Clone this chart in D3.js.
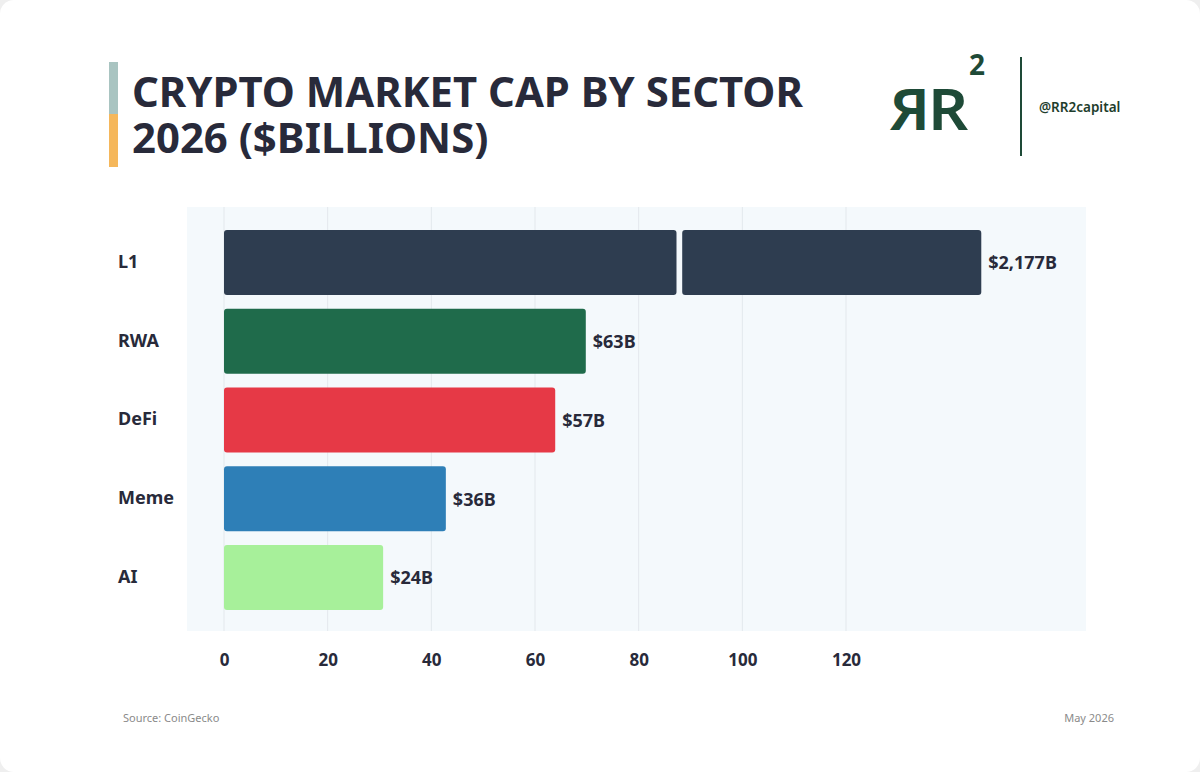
<!DOCTYPE html>
<html>
<head>
<meta charset="utf-8">
<script src="https://cdn.jsdelivr.net/npm/d3@7"></script>
<style>
  body { margin: 0; background: #efefef; }
  svg { display: block; }
  text { font-family: "Noto Sans", "Open Sans", sans-serif; }
</style>
</head>
<body>
<div id="content"></div>
<script>
// values
const sectors = ["L1", "RWA", "DeFi", "Meme", "AI"];
const valueLabels = ["$2,177B", "$63B", "$57B", "$36B", "$24B"];
// drawn bar lengths in axis units (the L1 bar is broken)
const barLengths = [146.1, 69.8, 63.9, 42.8, 30.7];
const l1Break = [87.3, 88.4];
const barColors = ["#2e3d50", "#1f6b4b", "#e63946", "#2e7fb7", "#a7f09a"];
const ticks = [0, 20, 40, 60, 80, 100, 120];

const W = 1200, H = 772;

const svg = d3
  .select("#content")
  .append("svg")
  .attr("width", W)
  .attr("height", H);

svg.append("rect")
  .attr("width", W).attr("height", H)
  .attr("rx", 14)
  .attr("fill", "#ffffff");

// title accent
svg.append("rect").attr("x", 109).attr("y", 62).attr("width", 9).attr("height", 52).attr("fill", "#a9c4c1");
svg.append("rect").attr("x", 109).attr("y", 114).attr("width", 9).attr("height", 53).attr("fill", "#f5b75b");

// title as one text block, two lines
const titleLines = ["CRYPTO MARKET CAP BY SECTOR", "2026 ($BILLIONS)"];
const title = svg.append("text")
  .attr("x", 132)
  .attr("y", 107)
  .attr("font-size", 42)
  .attr("font-weight", 700)
  .attr("fill", "#282a3a");
title.selectAll("tspan")
  .data(titleLines)
  .join("tspan")
  .attr("x", 132)
  .attr("y", (d, i) => 107 + i * 46)
  .text((d) => d);
// fit first line to the reference width
const firstLen = title.select("tspan").node().getComputedTextLength();
title.attr("font-size", 42 * 671 / firstLen);

// logo
const logo = svg.append("g").attr("fill", "#1e4a37");
logo.append("text")
  .attr("x", 0).attr("y", 0)
  .attr("transform", "translate(930,130) scale(-1.08,1)")
  .attr("font-size", 58)
  .attr("font-weight", 600)
  .text("R");
logo.append("text")
  .attr("x", 0).attr("y", 0)
  .attr("transform", "translate(928,130) scale(1.08,1)")
  .attr("font-size", 58)
  .attr("font-weight", 600)
  .text("R");
logo.append("text")
  .attr("x", 969).attr("y", 75)
  .attr("font-size", 28)
  .attr("font-weight", 700)
  .text("2");
svg.append("line")
  .attr("x1", 1021).attr("x2", 1021)
  .attr("y1", 57).attr("y2", 156)
  .attr("stroke", "#1e4a37").attr("stroke-width", 2);
svg.append("text")
  .attr("x", 1039).attr("y", 112)
  .attr("font-size", 13.5)
  .attr("font-weight", 600)
  .attr("fill", "#1e3d2c")
  .text("@RR2capital");

// chart
const x = d3.scaleLinear().domain([0, 120]).range([224, 846]);
const y = d3.scaleBand()
  .domain(sectors)
  .range([230, 610])
  .paddingInner(0.175)
  .paddingOuter(0);

svg.append("rect")
  .attr("x", 187).attr("y", 207)
  .attr("width", 899).attr("height", 424)
  .attr("fill", "#f4f9fc");

svg.append("g")
  .selectAll("line")
  .data(ticks)
  .join("line")
  .attr("x1", (d) => x(d)).attr("x2", (d) => x(d))
  .attr("y1", 207).attr("y2", 631)
  .attr("stroke", "#e3e8ec")
  .attr("stroke-width", 1);

// segments: L1 split in two at the break
const segments = [];
sectors.forEach((s, i) => {
  if (s === "L1") {
    segments.push({ s, c: barColors[i], a: 0, b: l1Break[0] });
    segments.push({ s, c: barColors[i], a: l1Break[1], b: barLengths[i] });
  } else {
    segments.push({ s, c: barColors[i], a: 0, b: barLengths[i] });
  }
});

svg.append("g")
  .selectAll("rect")
  .data(segments)
  .join("rect")
  .attr("x", (d) => x(d.a))
  .attr("y", (d) => y(d.s))
  .attr("width", (d) => x(d.b) - x(d.a))
  .attr("height", y.bandwidth())
  .attr("rx", 3)
  .attr("fill", (d) => d.c);

svg.append("g")
  .selectAll("text")
  .data(sectors)
  .join("text")
  .attr("x", (d, i) => x(barLengths[i]) + 7)
  .attr("y", (d) => y(d) + y.bandwidth() / 2)
  .attr("dy", "0.38em")
  .attr("font-size", 18)
  .attr("font-weight", 700)
  .attr("fill", "#282a3a")
  .text((d, i) => valueLabels[i]);

// category labels
svg.append("g")
  .selectAll("text")
  .data(sectors)
  .join("text")
  .attr("x", 118)
  .attr("y", (d) => y(d) + y.bandwidth() / 2)
  .attr("dy", "0.3em")
  .attr("font-size", 18)
  .attr("font-weight", 700)
  .attr("fill", "#282a3a")
  .text((d) => d);

// x axis
const xAxis = svg.append("g")
  .attr("transform", "translate(0,654)")
  .call(d3.axisBottom(x).tickValues(ticks).tickSize(0).tickPadding(0));
xAxis.select(".domain").remove();
xAxis.selectAll("text")
  .attr("dy", "0.71em")
  .attr("font-family", "'Noto Sans', sans-serif")
  .attr("font-size", 17)
  .attr("font-weight", 700)
  .attr("fill", "#282a3a");

// footer
svg.append("text")
  .attr("x", 123).attr("y", 722)
  .attr("font-size", 11)
  .attr("fill", "#8a8a8a")
  .text("Source: CoinGecko");
svg.append("text")
  .attr("x", 1114).attr("y", 722)
  .attr("text-anchor", "end")
  .attr("font-size", 11)
  .attr("fill", "#8a8a8a")
  .text("May 2026");
</script>
</body>
</html>
